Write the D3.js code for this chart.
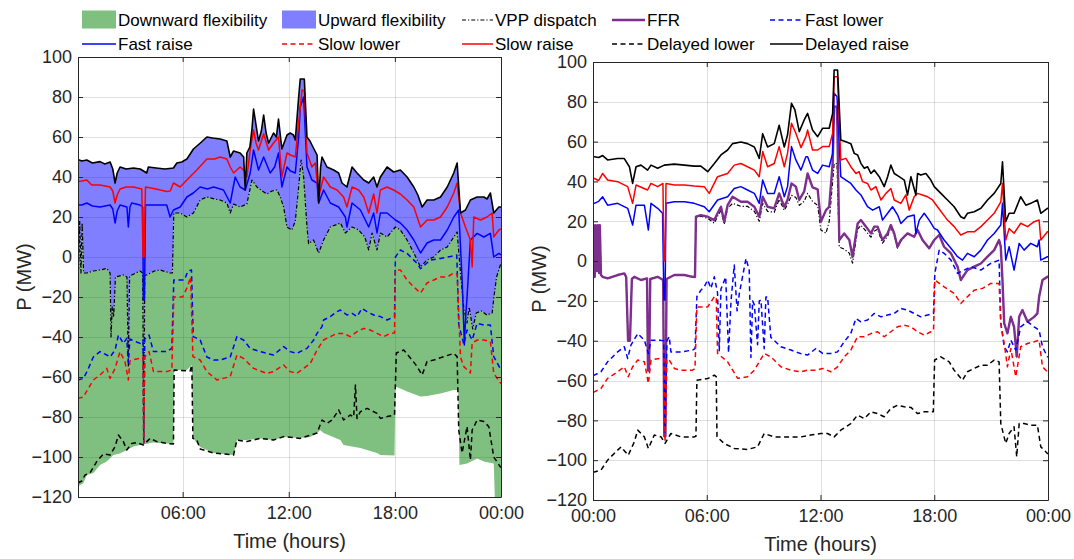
<!DOCTYPE html>
<html><head><meta charset="utf-8">
<script src="https://cdn.jsdelivr.net/npm/d3@7"></script>
<style>body{margin:0;background:#fff}svg{font-family:"Liberation Sans",Arial,sans-serif}</style>
</head><body><svg id="c" width="1074" height="559"></svg>
<script>
// ---------------- DATA (hour, MW) ----------------
const yTicks = [-120,-100,-80,-60,-40,-20,0,20,40,60,80,100];
const xTickHours = [0,6,12,18,24];
const xTickLabels = ["00:00","06:00","12:00","18:00","00:00"];
const legendLabels = ["Downward flexibility","Upward flexibility","VPP dispatch","FFR","Fast lower","Fast raise","Slow lower","Slow raise","Delayed lower","Delayed raise"];

// Left panel
const leftDelayedRaise = [[0.07,48.8],[0.3,48],[0.58,48.5],[0.9,47],[1.33,47.7],[1.6,46.5],[1.9,47.5],[2.05,44],[2.18,37],[2.3,42],[2.46,45],[2.8,44],[3.22,44.5],[3.6,44],[3.97,42],[4.06,45],[4.5,44.5],[5.0,44],[5.48,44.5],[5.67,47],[5.95,47.5],[6.24,49],[6.61,54],[7.0,57],[7.37,60],[7.7,59.5],[8.12,59],[8.5,58],[8.69,50],[8.88,53],[9.25,52],[9.45,50],[9.54,33.5],[9.63,52],[9.8,55],[9.92,64],[10.01,74],[10.15,66],[10.29,58],[10.45,63],[10.58,71],[10.72,62],[10.86,57],[11.14,62],[11.3,60],[11.42,69],[11.61,54],[11.9,61],[12.08,62],[12.27,61],[12.37,58.5],[12.56,80],[12.65,89],[12.88,89],[13.03,60],[13.2,58],[13.31,56],[13.6,51],[13.69,27],[13.8,45],[13.88,50],[14.16,45],[14.54,43.5],[14.82,42],[15.01,37],[15.29,35],[15.58,45],[15.86,42],[16.24,38.5],[16.52,37],[16.8,40],[16.99,35],[17.18,40],[17.56,45],[17.93,42.5],[18.31,43.5],[18.69,40],[19.07,35],[19.3,31],[19.54,25],[19.82,28.5],[20.2,28.5],[20.58,30],[20.96,35],[21.33,42],[21.52,47],[21.71,22],[21.99,23.5],[22.27,28.5],[22.65,30],[23.03,30],[23.21,29],[23.4,32],[23.59,22],[23.88,25],[24,25]];
const leftSlowRaise = [[0.07,37.7],[0.3,38],[0.58,38.5],[0.86,36],[1.33,36],[1.9,35],[2.05,33],[2.18,27],[2.3,31],[2.46,34],[2.8,35],[3.22,35],[3.69,34],[3.76,0],[3.82,0],[3.9,35],[4.5,34],[5.1,32.7],[5.3,33],[5.48,37],[5.86,35],[6.24,38.5],[6.8,43.5],[7.37,49],[7.8,49],[8.12,50],[8.5,49],[8.69,45],[8.88,42],[9.25,45],[9.5,43],[9.63,40],[9.82,53.5],[10.01,63.5],[10.15,57],[10.29,53.5],[10.58,61.5],[10.86,53.5],[11.14,57],[11.42,60],[11.61,40],[11.9,52],[12.1,51],[12.37,50],[12.56,67],[12.75,83.5],[12.88,83],[13.03,52],[13.31,45],[13.5,47],[13.69,30],[13.97,40],[14.35,35],[14.73,33.5],[15.1,30],[15.29,25],[15.58,35],[15.95,33.5],[16.24,30],[16.52,22],[16.8,31.5],[16.99,22],[17.18,33.5],[17.56,35],[17.93,33.5],[18.31,31.5],[18.69,28.5],[19.07,25],[19.45,15],[19.82,18.5],[20.2,18.5],[20.58,20],[20.96,25],[21.33,32],[21.52,37],[21.71,22],[21.99,15],[22.27,8.5],[22.37,-5],[22.46,20],[22.84,18.5],[23.21,20],[23.5,22],[23.59,10],[23.88,13.5],[24,14]];
const leftFastRaise = [[0.07,26],[0.3,26],[0.58,27],[0.9,25.5],[1.33,25],[1.9,26],[2.05,24],[2.18,17],[2.3,23],[2.46,26],[2.85,25],[2.93,15],[3.02,25],[3.12,27],[3.59,26],[3.74,25],[3.78,-21.5],[3.84,-21.5],[3.9,26],[4.5,26],[5.1,26],[5.29,20],[5.48,23.5],[5.86,25],[6.24,30],[6.6,32],[6.99,35],[7.4,34],[7.75,35],[8.31,33.5],[8.69,27],[8.97,40],[9.25,35],[9.54,33.5],[9.82,42],[10.01,53.5],[10.29,43.5],[10.58,50],[10.95,42],[11.2,45],[11.42,52],[11.61,35],[11.9,45],[12.1,43],[12.37,42],[12.56,60],[12.65,75],[12.84,80],[13.03,45],[13.31,38.5],[13.6,37],[13.69,27],[13.97,33.5],[14.35,27],[14.82,25],[15.2,20],[15.29,15],[15.58,27],[16.05,23.5],[16.52,15],[16.8,22],[16.99,12],[17.18,22],[17.56,22],[18.03,18.5],[18.31,17],[18.69,13.5],[19.07,8.5],[19.45,2],[19.82,7],[20.2,8.5],[20.58,8.5],[20.96,13.5],[21.33,20],[21.61,23.5],[21.8,-11],[21.93,-44],[22.0,-30],[22.08,-20],[22.27,8.5],[22.65,11.8],[23.03,10],[23.4,11.8],[23.59,0],[23.88,1.8],[24,1]];
const leftVppDispatch = [[0.07,18],[0.12,-6],[0.18,18],[0.25,-8],[0.32,17],[0.4,-8],[0.58,-8],[0.95,-7],[1.33,-6.5],[1.71,-5.7],[1.9,-8],[1.95,-40],[2.02,-25],[2.1,-30],[2.2,-10],[2.65,-9],[2.85,-10],[2.93,-55],[3.0,-10],[3.12,-9],[3.59,-7],[3.74,-8],[3.8,-93],[3.86,-9],[3.97,-9],[4.4,-7],[4.73,-6.5],[5.29,-8],[5.42,-8],[5.5,22],[5.86,22],[6.24,20],[6.61,22],[6.99,28.5],[7.37,30],[7.8,29],[8.12,28.5],[8.5,27],[8.69,22],[8.88,26.5],[9.25,25],[9.63,26.5],[9.92,38.5],[10.2,35],[10.5,33],[10.76,31.5],[11.05,33],[11.33,33.5],[11.52,30],[11.71,25],[11.9,15],[12.18,13.5],[12.37,18],[12.56,35],[12.7,48.5],[12.84,40],[13.03,15],[13.12,6.7],[13.4,8.5],[13.69,2],[13.97,8.5],[14.35,15],[14.92,17],[15.2,12],[15.58,15],[15.95,13.5],[16.3,10],[16.52,3.5],[16.71,12],[16.99,3.5],[17.18,12],[17.56,10],[18.03,15],[18.31,13.5],[18.69,8.5],[19.07,2],[19.45,-5],[19.82,-1.5],[20.2,0],[20.58,3.5],[20.96,5],[21.33,10],[21.52,12.5],[21.71,-8],[21.9,-26],[22.08,-33],[22.2,-25],[22.4,-36],[22.6,-28],[22.9,-27],[23.2,-29],[23.5,-28],[23.6,-20],[23.75,-10],[24,-3]];
const leftDownwardLimit = [[0.07,-114.8],[0.39,-113],[0.58,-109],[0.95,-108],[1.33,-104],[1.71,-102.3],[2.08,-99],[2.46,-98.2],[2.84,-96.5],[3.22,-94.8],[3.59,-94],[4.35,-92.8],[5.1,-93.2],[5.48,-93.5],[5.52,-56.5],[6.24,-56.5],[6.52,-54],[6.6,-90.7],[6.99,-95],[7.75,-98],[8.88,-99],[9.07,-91.5],[9.63,-91.5],[10.38,-90.7],[11.14,-91.5],[11.71,-90],[12.65,-90.5],[13.22,-90],[13.6,-88],[13.78,-86.5],[13.97,-88],[14.92,-91.5],[15.1,-94],[16.05,-95.5],[16.99,-98],[17.18,-99],[17.98,-99.3],[18.03,-64.8],[18.31,-65.7],[18.69,-67.3],[19.45,-69.8],[19.82,-69.5],[20.58,-68.2],[21.33,-66.5],[21.58,-66.5],[21.65,-104],[22.08,-103.2],[22.65,-100.7],[23.03,-102.3],[23.59,-103.2],[23.65,-120],[24,-120]];
const leftDelayedLower = [[0.07,-113],[0.3,-112],[0.48,-109],[0.76,-108],[1.14,-102.3],[1.52,-98.5],[1.9,-99],[2.18,-94.8],[2.37,-89],[2.65,-92.3],[2.84,-96.5],[3.12,-93.2],[3.41,-92.8],[3.78,-94],[4.16,-90.7],[4.54,-92.3],[5.1,-93.2],[5.48,-93.5],[5.52,-56.5],[6.42,-57],[6.52,-54],[6.58,-90.7],[6.8,-91.5],[6.99,-96],[7.75,-98],[8.88,-99],[9.07,-91.5],[9.63,-92.3],[10.38,-90.7],[11.14,-91.5],[11.71,-89.8],[12.65,-90.7],[13.6,-88],[13.88,-81.5],[14.16,-83.2],[14.45,-81.5],[14.82,-76.5],[15.1,-81.5],[15.48,-79],[15.67,-80],[15.77,-64],[15.86,-80.7],[16.05,-77.3],[16.43,-75.7],[16.99,-78.2],[17.18,-80.7],[17.56,-79.8],[17.98,-79],[18.08,-48],[18.5,-46.5],[18.97,-51.5],[19.26,-54.8],[19.54,-59],[19.82,-52.3],[20.2,-51.5],[20.77,-49.8],[21.33,-48.2],[21.52,-49.8],[21.61,-86.5],[21.8,-98],[22.08,-84.8],[22.27,-101.5],[22.37,-86.5],[22.65,-81.5],[23.03,-82.3],[23.31,-84.8],[23.59,-100],[23.97,-105],[24,-105]];
const leftFastLower = [[0.07,-61.5],[0.39,-60.7],[0.58,-57.5],[0.95,-50],[1.33,-47.3],[1.71,-49],[1.9,-50],[2.18,-46.5],[2.37,-39],[2.65,-43.2],[2.84,-40.7],[2.93,-53],[3.02,-41],[3.12,-41.5],[3.59,-43.2],[3.76,-41.5],[3.8,-93],[3.86,-41],[4.1,-39],[4.35,-47.3],[5.1,-47.3],[5.39,-45.7],[5.5,-11.5],[6.1,-11.5],[6.3,-7],[6.5,-6.5],[6.6,-39.8],[6.99,-41.5],[7.37,-50],[7.75,-51.5],[8.12,-51.5],[8.69,-50],[9.07,-39.8],[9.44,-41.5],[9.82,-45.7],[10.38,-47.3],[10.76,-48.2],[11.14,-49],[11.71,-44.8],[12.08,-47.3],[12.46,-48.2],[12.65,-47.3],[13.03,-45.7],[13.41,-41.5],[13.6,-38.2],[13.88,-34.8],[13.97,-31.5],[14.35,-29.8],[14.73,-27.3],[14.92,-26.5],[15.29,-29],[15.58,-28.2],[15.86,-29.8],[16.14,-25.7],[16.43,-27.3],[16.8,-29],[17.18,-29.8],[17.56,-31.5],[17.98,-29.8],[18.03,0],[18.31,3.5],[18.69,1.8],[19.26,-3.2],[19.45,-5.8],[20.01,-1.5],[20.58,-0.7],[21.14,0.2],[21.5,1],[21.61,-33.7],[21.9,-43.7],[22.08,-36.5],[22.37,-41.5],[22.65,-33.2],[23.03,-34],[23.4,-34],[23.59,-49.8],[23.97,-56],[24,-56]];
const leftSlowLower = [[0.07,-70.7],[0.39,-70],[0.58,-67],[0.95,-61.5],[1.33,-59],[1.71,-55.7],[1.9,-60.7],[2.18,-55.7],[2.46,-47.3],[2.74,-52.3],[2.93,-61.5],[3.02,-52],[3.12,-51.5],[3.59,-50.7],[3.76,-50],[3.8,-93],[3.86,-50],[4.1,-47.3],[4.35,-57.3],[5.1,-57.3],[5.39,-56.5],[5.5,-20],[6.0,-20],[6.27,-15],[6.45,-10],[6.58,-49.8],[6.99,-51.5],[7.37,-57.3],[7.94,-61.5],[8.69,-59.8],[9.07,-49],[9.44,-50.7],[10.01,-55.7],[10.76,-58.2],[11.14,-57.3],[11.71,-54],[12.08,-57.3],[12.46,-58.2],[12.84,-55.7],[13.22,-53.2],[13.6,-46.5],[13.97,-41.5],[14.35,-39.8],[14.73,-38.2],[15.1,-38.2],[15.48,-39.8],[15.86,-37.3],[16.24,-35.7],[16.61,-36.5],[16.99,-38.2],[17.37,-39.8],[17.75,-38.2],[17.98,-38],[18.03,-6.5],[18.31,-6.5],[18.69,-11.5],[19.07,-15],[19.45,-18],[19.82,-13],[20.2,-11.5],[20.58,-10],[20.96,-10],[21.33,-8],[21.52,-8.5],[21.71,-50],[21.9,-54.8],[22.27,-58],[22.37,-43],[22.65,-41.5],[23.03,-41.5],[23.4,-42.3],[23.59,-58.2],[23.97,-63],[24,-63]];

// Right panel
const rightDelayedRaise = [[0,52.4],[0.07,52.4],[0.3,52],[0.51,53],[0.77,50.8],[1.3,51.5],[1.65,51.5],[1.92,47.4],[2.09,39],[2.27,47.4],[2.53,48.2],[2.88,45.7],[3.06,48.2],[3.41,46.6],[3.76,48.2],[4.29,48.7],[4.82,48.2],[5.34,47.7],[5.69,47.7],[6.05,44.9],[6.4,49],[6.75,53.3],[7.1,55.8],[7.36,59],[7.8,59.8],[8.15,59],[8.51,57.3],[8.77,51.6],[8.95,64],[9.21,57.3],[9.56,59],[9.82,68.2],[10.09,57.3],[10.26,63.3],[10.47,79.2],[10.65,75.9],[10.88,65],[11.14,70.9],[11.32,74.2],[11.58,65.8],[11.85,62.5],[12.11,66.7],[12.46,66.7],[12.64,74.2],[12.72,96],[12.9,96],[13.07,60.8],[13.34,59.9],[13.6,59],[13.78,54.1],[13.96,53.3],[14.13,49.1],[14.31,46.6],[14.48,47.4],[14.66,44],[14.83,45.7],[15.1,42.4],[15.36,37.4],[15.54,42.4],[15.71,48.2],[15.89,44],[16.15,42.4],[16.42,40.7],[16.59,33.2],[16.77,42.4],[17.03,33.2],[17.12,44],[17.29,43.2],[17.56,44],[17.82,40.7],[18.0,37.4],[18.35,34],[18.7,30.7],[19.05,27.3],[19.4,22.3],[19.58,21.4],[19.75,24],[20.11,24.8],[20.46,26.5],[20.81,30.7],[21.16,34],[21.51,39],[21.6,49.9],[21.77,19.8],[21.95,24],[22.21,24],[22.56,32.3],[22.83,28.1],[23.09,29],[23.44,30.7],[23.62,24],[23.97,26.5],[24,26.5]];
const rightSlowRaise = [[0,41.5],[0.07,41.5],[0.3,40.5],[0.51,44],[0.77,40.7],[1.3,39.9],[1.83,37.4],[2.09,29],[2.27,38.2],[2.88,35.7],[3.06,39],[3.41,37.4],[3.69,39],[3.74,0],[3.8,0],[3.85,39],[4.29,38.2],[4.82,38.2],[5.34,37.7],[5.87,37.4],[6.13,34],[6.57,42.4],[7.1,44],[7.45,48.2],[7.8,49],[8.15,47.4],[8.51,45.7],[8.77,42.4],[8.95,55],[9.21,47.4],[9.56,49],[9.82,57.5],[10.09,47.4],[10.26,54.1],[10.47,69.2],[10.7,64.2],[10.97,57],[11.23,62.5],[11.32,65.8],[11.58,55.8],[11.85,55.8],[12.11,57.5],[12.46,57.5],[12.64,64.2],[12.72,92.6],[12.9,92.6],[13.07,50.8],[13.34,51.6],[13.6,47.4],[13.87,44],[14.04,44.9],[14.22,39.9],[14.48,39],[14.66,35.7],[14.92,37.4],[15.19,30.7],[15.45,34],[15.71,36.5],[15.89,30.7],[16.24,29],[16.5,33.2],[16.68,25.6],[16.94,32.3],[17.12,34],[17.38,33.2],[17.65,32.3],[17.91,30.7],[18.17,27.3],[18.7,20.6],[19.05,17.3],[19.4,13.1],[19.75,14.7],[20.11,14.7],[20.46,17.3],[20.81,20.6],[21.16,24],[21.51,29.8],[21.6,39],[21.77,10.6],[21.95,16.4],[22.21,14],[22.56,19],[22.92,17.3],[23.27,19.8],[23.53,20.6],[23.62,10.6],[23.97,14.7],[24,14.7]];
const rightFastRaise = [[0,29],[0.07,29],[0.3,30],[0.51,32.3],[0.77,28.1],[1.3,29],[1.83,26.5],[2.09,18.1],[2.27,28.1],[2.71,28.1],[2.92,15.6],[3.06,29],[3.41,26.5],[3.67,24],[3.74,-19.6],[3.8,-19.6],[3.85,29],[4.29,29.8],[4.82,29.8],[5.34,29],[5.87,27.3],[6.13,24.8],[6.57,30.7],[7.1,32.3],[7.45,36.5],[7.8,37.4],[8.15,35.7],[8.51,34],[8.77,29],[8.95,40.7],[9.21,34],[9.56,34],[9.82,42.4],[10.09,32.3],[10.26,37.4],[10.47,57.5],[10.7,50.8],[10.97,45.7],[11.23,52.4],[11.32,52.4],[11.58,45.7],[11.85,44],[12.11,48.2],[12.46,47.4],[12.64,54.1],[12.72,84.3],[12.87,82.6],[13.07,42.4],[13.34,40.7],[13.6,39],[13.87,35.7],[14.13,33.2],[14.48,27.3],[14.75,25.6],[15.1,27.3],[15.27,20.6],[15.54,24],[15.8,27.3],[16.07,23.1],[16.24,18.9],[16.59,22.3],[16.94,23.1],[17.03,13.9],[17.21,20.6],[17.47,24],[17.73,20.6],[18.0,16.4],[18.17,15.6],[18.52,10.6],[18.88,6.4],[19.23,2.2],[19.49,0.5],[19.75,3.9],[20.11,2.2],[20.46,5.5],[20.81,10.6],[21.16,13.9],[21.51,18.1],[21.6,29],[21.77,0.5],[21.95,7.2],[22.21,-4.5],[22.48,8.9],[22.74,5.5],[23.09,8.9],[23.44,7.2],[23.53,10.6],[23.62,0.5],[23.97,2.2],[24,2.2]];
const rightFFR = [[0,-6],[0.04,18],[0.09,-8],[0.14,18],[0.2,-5],[0.26,18],[0.32,-6],[0.36,18],[0.42,-7],[0.51,-7.9],[0.77,-8.7],[1.3,-7],[1.65,-6.2],[1.75,-8],[1.85,-40],[1.95,-40],[2.05,-9],[2.18,-7.9],[2.53,-9.5],[2.85,-8.7],[2.9,-55],[2.96,-55],[3.02,-9],[3.41,-7.9],[3.7,-9.5],[3.76,-88],[3.82,-88],[3.88,-9],[4.29,-7],[4.82,-7],[5.25,-7.9],[5.38,-8],[5.43,22.3],[5.69,23.1],[6.05,22.3],[6.4,20.6],[6.57,24],[6.75,27.3],[6.92,19.8],[7.1,28.1],[7.36,32.3],[7.8,29.8],[8.15,29.8],[8.51,27.3],[8.77,22.3],[8.95,32.3],[9.21,27.3],[9.56,26.5],[9.82,34],[10.09,27.3],[10.26,30.7],[10.47,39],[10.7,37.4],[10.88,30.7],[11.14,35],[11.32,44],[11.58,37],[11.85,36],[12.02,19.8],[12.29,25.6],[12.46,27.3],[12.64,49.1],[12.72,77.6],[12.87,77.6],[12.99,10.6],[13.25,13.9],[13.52,10.6],[13.69,2.2],[13.96,18.9],[14.13,20.6],[14.4,17.3],[14.66,13.9],[14.83,17.3],[15.01,17.3],[15.27,10.6],[15.54,13.9],[15.71,18.1],[15.89,13.9],[16.06,7.2],[16.24,10.6],[16.59,13.9],[16.94,12.2],[17.12,15.6],[17.38,10.6],[17.73,6.4],[18.0,10.6],[18.26,13.1],[18.52,7.2],[18.88,3.9],[19.23,-2.8],[19.4,-9.5],[19.75,-4.5],[20.11,-2.8],[20.46,-1.2],[20.81,2.2],[21.16,5.5],[21.42,10.6],[21.51,7.2],[21.6,-10],[21.69,-31.3],[21.86,-36.3],[22.04,-28],[22.21,-33],[22.35,-48],[22.48,-28],[22.65,-24.6],[22.92,-30.5],[23.27,-28],[23.44,-26.3],[23.53,-18],[23.71,-9.5],[23.97,-7.9],[24,-7.9]];
const rightVppDispatch = [[0,-6],[0.04,18],[0.09,-8],[0.14,18],[0.2,-5],[0.26,18],[0.32,-6],[0.36,18],[0.42,-7],[0.51,-7.9],[0.77,-8.7],[1.3,-7],[1.65,-6.2],[1.75,-8],[1.85,-40],[1.95,-40],[2.05,-9],[2.18,-7.9],[2.53,-9.5],[2.85,-8.7],[2.9,-55],[2.96,-55],[3.02,-9],[3.41,-7.9],[3.7,-9.5],[3.76,-88],[3.82,-88],[3.88,-9],[4.29,-7],[4.82,-7],[5.25,-7.9],[5.38,-8],[5.43,22],[5.69,22.5],[6.05,21.5],[6.4,19],[6.57,22.5],[6.75,25.5],[6.92,18.5],[7.1,26.5],[7.36,29],[7.8,27.5],[8.15,27.5],[8.51,25],[8.77,20],[8.95,29],[9.21,25],[9.56,24.5],[9.82,31],[10.09,25.5],[10.26,28.5],[10.47,33],[10.7,32],[10.88,28],[11.14,30],[11.32,34],[11.58,30],[11.85,28],[12.02,15.6],[12.29,14],[12.46,20],[12.64,40],[12.72,49],[12.87,49],[12.99,7],[13.25,6],[13.52,4],[13.69,-1],[13.96,16],[14.13,18],[14.4,15],[14.66,12],[14.83,15],[15.01,16],[15.27,9],[15.54,12.5],[15.71,17],[15.89,13],[16.06,6.5],[16.24,10],[16.59,13.9],[16.94,12.2],[17.12,15.6],[17.38,10.6],[17.73,6.4],[18.0,10.6],[18.26,13.1],[18.52,7.2],[18.88,3.9],[19.23,-2.8],[19.4,-9.5],[19.75,-4.5],[20.11,-2.8],[20.46,-1.2],[20.81,2.2],[21.16,5.5],[21.42,10.6],[21.51,7.2],[21.6,-10],[21.69,-31.3],[21.86,-36.3],[22.04,-28],[22.21,-33],[22.35,-48],[22.48,-28],[22.65,-24.6],[22.92,-30.5],[23.27,-28],[23.44,-26.3],[23.53,-18],[23.71,-9.5],[23.97,-7.9],[24,-7.9]];
const rightDelayedLower = [[0,-106],[0.07,-105.9],[0.42,-105],[0.77,-100],[1.12,-96.6],[1.48,-93.3],[1.86,-97.5],[2.18,-90.8],[2.36,-84.9],[2.71,-88.3],[2.92,-94.1],[3.23,-87.4],[3.59,-88.3],[3.8,-91.6],[4.11,-86.6],[4.64,-88.3],[5.34,-88.3],[5.43,-88],[5.48,-59.8],[6.05,-59],[6.4,-57.3],[6.5,-58],[6.54,-88.3],[6.92,-91.6],[7.45,-94.1],[8.15,-94.6],[8.68,-93.3],[9.03,-86.6],[9.56,-88.3],[10.26,-88.3],[10.97,-88.3],[11.49,-87.4],[12.02,-86.6],[12.37,-86.6],[12.72,-88.3],[13.07,-84.9],[13.6,-81.6],[13.95,-77.4],[14.31,-79.1],[14.66,-75.7],[15.01,-76.6],[15.36,-78.2],[15.71,-74],[16.06,-72.4],[16.42,-73.2],[16.77,-73.5],[17.12,-76.6],[17.47,-75.7],[17.95,-75.7],[18.02,-49.7],[18.35,-48.1],[18.79,-50.6],[19.05,-54.8],[19.49,-59.8],[19.75,-55.6],[20.11,-53.9],[20.46,-52.3],[20.81,-52.3],[21.16,-49.7],[21.42,-50.6],[21.51,-81.6],[21.77,-91.6],[21.95,-86.6],[22.21,-83.2],[22.35,-98.3],[22.48,-81.6],[22.74,-81.6],[23.09,-82.4],[23.44,-82.4],[23.62,-93.3],[23.97,-96.6],[24,-96.6]];
const rightFastLower = [[0,-57.3],[0.07,-57.3],[0.42,-55.6],[0.77,-50.6],[1.3,-45.6],[1.65,-43],[1.83,-48.9],[2.0,-42.2],[2.36,-36.4],[2.71,-39.7],[2.92,-46.4],[3.06,-39.7],[3.5,-39.7],[3.73,-40],[3.8,-86],[3.9,-40],[4.02,-38],[4.11,-45.6],[4.64,-45.6],[5.25,-44.7],[5.38,-44],[5.48,-17.9],[5.69,-14.6],[5.87,-12.9],[6.05,-9.5],[6.22,-13.7],[6.4,-7.9],[6.57,-16],[6.66,-45],[6.75,-14],[6.84,-12],[7.0,-8],[7.15,-46],[7.28,-20],[7.45,-2],[7.6,-25],[7.72,-16.2],[8.07,1.3],[8.24,-4.5],[8.33,-48.4],[8.42,-20],[8.51,-22],[8.68,-42],[8.77,-20],[8.86,-19.6],[9.03,-44],[9.12,-18],[9.21,-18],[9.38,-38.3],[9.91,-43],[10.44,-44.7],[10.97,-46.5],[11.32,-47.2],[11.76,-43.9],[12.11,-46.4],[12.55,-46.4],[12.9,-45.6],[13.25,-40.5],[13.6,-36.3],[13.87,-28.8],[14.13,-30.5],[14.48,-29.6],[14.83,-26.3],[15.19,-28],[15.54,-27.1],[15.89,-26.3],[16.24,-23.8],[16.59,-24.6],[16.94,-26.3],[17.29,-28],[17.65,-27.1],[17.96,-26.3],[18.03,-6.2],[18.26,5.5],[18.52,3.9],[18.88,0.5],[19.23,-6.2],[19.58,-4.5],[19.93,-2.8],[20.46,-4.5],[20.98,-1.2],[21.42,0.5],[21.51,-31.3],[21.69,-43],[21.86,-45.6],[22.04,-39.7],[22.3,-44.7],[22.56,-33],[22.92,-30.5],[23.27,-33],[23.53,-34.7],[23.71,-43],[23.97,-48.1],[24,-48.1]];
const rightSlowLower = [[0,-65.7],[0.07,-65.7],[0.42,-64],[0.77,-58.9],[1.3,-55.6],[1.65,-53.1],[1.86,-58.1],[2.09,-53.1],[2.36,-49.7],[2.71,-50.6],[2.92,-61.5],[3.06,-49.7],[3.5,-48.9],[3.73,-49],[3.8,-90.8],[3.9,-49],[4.02,-49.7],[4.29,-53.9],[4.64,-54.8],[5.25,-54.8],[5.38,-54],[5.48,-23],[6.05,-23],[6.4,-17.9],[6.5,-18],[6.57,-46.4],[7.1,-50.6],[7.63,-58.9],[8.15,-58.1],[8.51,-54.8],[9.03,-46.4],[9.38,-48.1],[9.91,-53.1],[10.44,-54.8],[10.97,-55.6],[11.32,-54.8],[11.76,-54.8],[12.11,-53.9],[12.55,-55.6],[12.9,-53.1],[13.25,-48.1],[13.6,-44.7],[13.95,-38],[14.31,-38],[14.66,-36.4],[15.01,-35.5],[15.36,-38],[15.71,-35.5],[16.06,-33],[16.42,-32.2],[16.77,-33],[17.12,-35.5],[17.47,-37.2],[17.82,-35.5],[17.96,-35],[18.03,-9.5],[18.52,-12.9],[19.05,-16.2],[19.4,-21.3],[19.75,-17.9],[20.11,-14.6],[20.55,-13.7],[20.98,-11.2],[21.42,-11.2],[21.51,-31.3],[21.69,-41.4],[21.86,-53.1],[22.04,-43.9],[22.3,-58.1],[22.56,-43],[22.92,-41.4],[23.27,-40.5],[23.53,-39.7],[23.71,-53.1],[23.97,-55.6],[24,-55.6]];

// ---------------- STYLE ----------------
const INK = "#262626";
const S = {
  down:{fill:"#008000"}, up:{fill:"#0000ff"},
  vpp:{color:"#000000", width:1.2, dash:"4,2,1.2,2"},
  ffr:{color:"#7E2F8E", width:2.4, dash:null},
  fastLower:{color:"#0000ff", width:1.5, dash:"5,3.5"},
  fastRaise:{color:"#0000ff", width:1.5, dash:null},
  slowLower:{color:"#ff0000", width:1.5, dash:"5,3.5"},
  slowRaise:{color:"#ff0000", width:1.5, dash:null},
  delayedLower:{color:"#000000", width:1.5, dash:"5,3.5"},
  delayedRaise:{color:"#000000", width:1.6, dash:null}
};

const svg = d3.select("#c");

function panel(id, px0, px1, py0, py1, xDomain, xTickIdx, fills, lines) {
  const x = d3.scaleLinear().domain(xDomain).range([px0, px1]);
  const y = d3.scaleLinear().domain([-120, 100]).range([py1, py0]);
  const g = svg.append("g");
  g.append("clipPath").attr("id", id).append("rect")
    .attr("x", px0).attr("y", py0).attr("width", px1 - px0).attr("height", py1 - py0);

  const grid = g.append("g").attr("stroke", INK).attr("stroke-opacity", 0.15).attr("stroke-width", 1);
  grid.selectAll(".gx").data(xTickIdx.map(i => xTickHours[i])).join("line")
    .attr("x1", d => Math.round(x(d)) + 0.5).attr("x2", d => Math.round(x(d)) + 0.5)
    .attr("y1", py0).attr("y2", py1);
  grid.selectAll(".gy").data(yTicks).join("line")
    .attr("y1", d => Math.round(y(d)) + 0.5).attr("y2", d => Math.round(y(d)) + 0.5)
    .attr("x1", px0).attr("x2", px1);

  const plot = g.append("g").attr("clip-path", `url(#${id})`);
  const line = d3.line().x(d => x(d[0])).y(d => y(d[1]));
  fills.forEach(f => {
    const pts = f.top.concat(f.bottom.slice().reverse());
    plot.append("path").attr("d", line(pts) + "Z")
      .attr("fill", f.style.fill).attr("fill-opacity", 0.5).attr("stroke", "none");
  });
  lines.forEach(l => {
    plot.append("path").attr("d", line(l.data)).attr("fill", "none")
      .attr("stroke", l.style.color).attr("stroke-width", l.style.width)
      .attr("stroke-dasharray", l.style.dash).attr("stroke-linejoin", "round");
  });

  const xt = xTickIdx.map(i => xTickHours[i]);
  const fmtX = d => xTickLabels[xTickHours.indexOf(d)];
  const ax = [
    g.append("g").attr("transform", `translate(0,${py1})`)
      .call(d3.axisBottom(x).tickValues(xt).tickFormat(fmtX).tickSize(-5).tickSizeOuter(0).tickPadding(9)),
    g.append("g").attr("transform", `translate(0,${py0})`)
      .call(d3.axisTop(x).tickValues(xt).tickFormat("").tickSize(-5).tickSizeOuter(0)),
    g.append("g").attr("transform", `translate(${px0},0)`)
      .call(d3.axisLeft(y).tickValues(yTicks).tickSize(-5).tickSizeOuter(0).tickPadding(6)),
    g.append("g").attr("transform", `translate(${px1},0)`)
      .call(d3.axisRight(y).tickValues(yTicks).tickFormat("").tickSize(-5).tickSizeOuter(0))
  ];
  ax.forEach(a => {
    a.attr("font-family", null).attr("font-size", null);
    a.select(".domain").attr("stroke", INK).attr("stroke-width", 1);
    a.selectAll(".tick line").attr("stroke", INK);
    a.selectAll("text").attr("fill", INK).style("font-size", "18px");
  });
  g.append("text").attr("x", (px0 + px1) / 2).attr("y", py1 + 51).attr("text-anchor", "middle")
    .attr("fill", INK).style("font-size", "20px").text("Time (hours)");
  return {x, y, g};
}

panel("clipL", 78, 501, 57, 497, [1/12, 24], [1,2,3,4],
  [{top: leftVppDispatch, bottom: leftDownwardLimit, style: S.down},
   {top: leftDelayedRaise, bottom: leftVppDispatch, style: S.up}],
  [{data: leftVppDispatch, style: S.vpp},
   {data: leftFastLower, style: S.fastLower},
   {data: leftFastRaise, style: S.fastRaise},
   {data: leftSlowLower, style: S.slowLower},
   {data: leftSlowRaise, style: S.slowRaise},
   {data: leftDelayedLower, style: S.delayedLower},
   {data: leftDelayedRaise, style: S.delayedRaise}]);

panel("clipR", 593, 1048, 62, 500, [0, 24], [0,1,2,3,4], [],
  [{data: rightVppDispatch, style: S.vpp},
   {data: rightFFR, style: S.ffr},
   {data: rightFastLower, style: S.fastLower},
   {data: rightFastRaise, style: S.fastRaise},
   {data: rightSlowLower, style: S.slowLower},
   {data: rightSlowRaise, style: S.slowRaise},
   {data: rightDelayedLower, style: S.delayedLower},
   {data: rightDelayedRaise, style: S.delayedRaise}]);

svg.append("text").attr("transform", "translate(31,277) rotate(-90)").attr("text-anchor", "middle")
  .attr("fill", INK).style("font-size", "20px").text("P (MW)");
svg.append("text").attr("transform", "translate(546,279) rotate(-90)").attr("text-anchor", "middle")
  .attr("fill", INK).style("font-size", "20px").text("P (MW)");

// legend
const legendStyles = [S.down, S.up, S.vpp, S.ffr, S.fastLower, S.fastRaise, S.slowLower, S.slowRaise, S.delayedLower, S.delayedRaise];
const colX = [82, 282, 462, 612, 770];
const colW = [34, 34, 31, 33, 33];
const rowY = [20, 44];
const lg = svg.append("g");
legendLabels.forEach((lab, i) => {
  const c = i % 5, r = Math.floor(i / 5);
  const st = legendStyles[i];
  const cy = rowY[r];
  if (st.fill) {
    lg.append("rect").attr("x", colX[c]).attr("y", cy - 9.5).attr("width", colW[c]).attr("height", 18)
      .attr("fill", st.fill).attr("fill-opacity", 0.5);
  } else {
    lg.append("line").attr("x1", colX[c]).attr("x2", colX[c] + colW[c]).attr("y1", cy).attr("y2", cy)
      .attr("stroke", st.color).attr("stroke-width", st.width).attr("stroke-dasharray", st.dash);
  }
  lg.append("text").attr("x", colX[c] + colW[c] + 2).attr("y", cy).attr("dy", "0.35em")
    .attr("fill", "#000").style("font-size", "17px").text(lab);
});
</script></body></html>
